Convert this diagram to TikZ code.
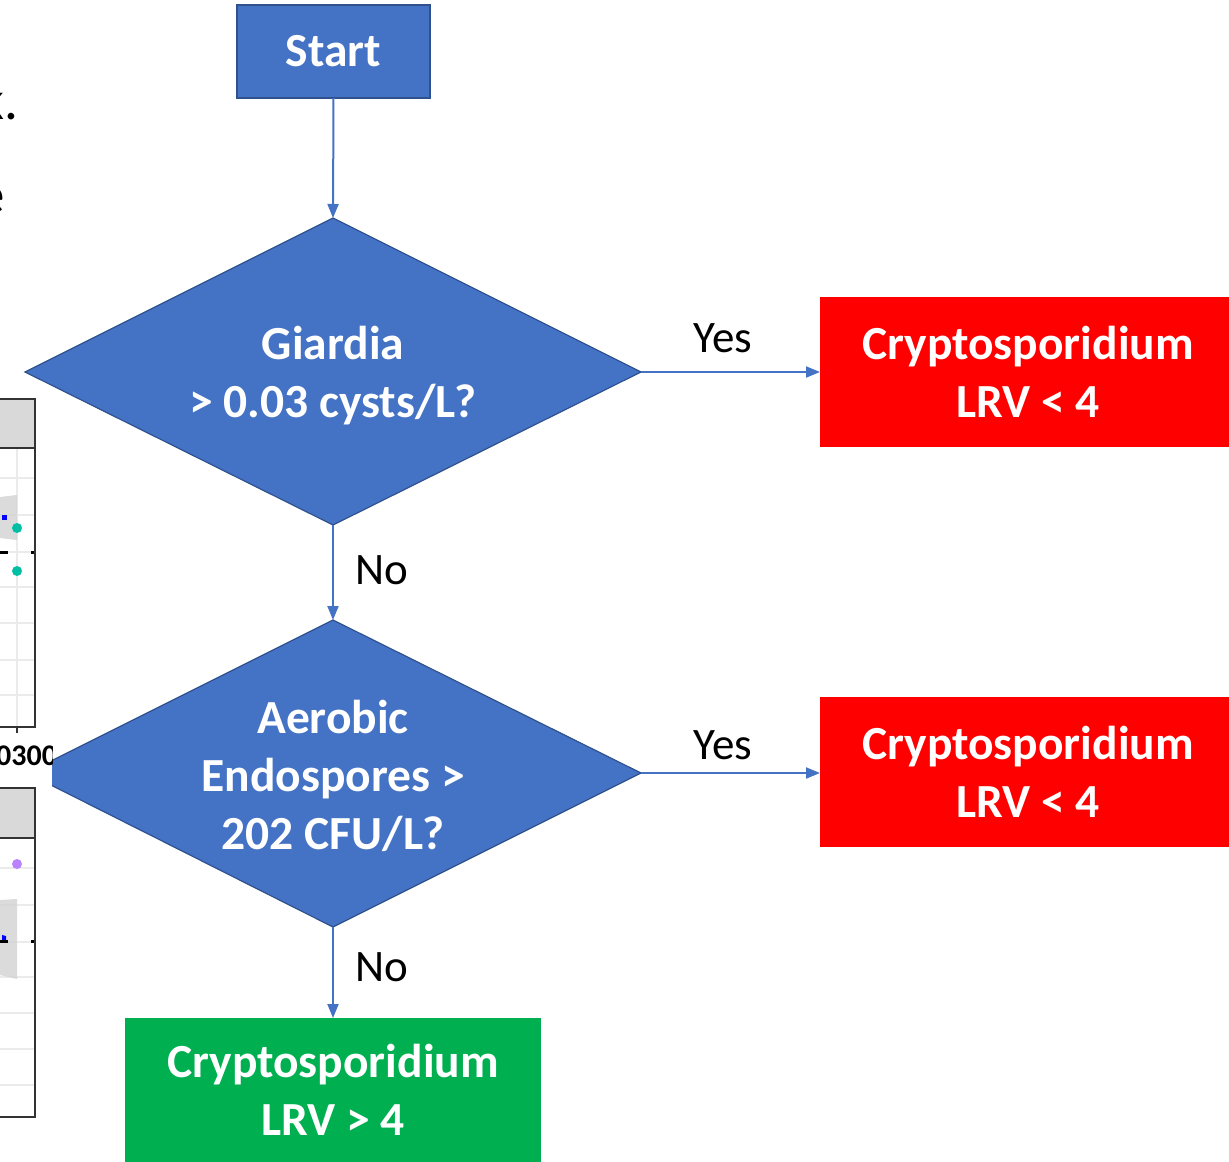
\documentclass[tikz,border=0pt]{standalone}
\usepackage{fontspec}
\setmainfont{Carlito}
\usetikzlibrary{arrows.meta}
\definecolor{fcblue}{HTML}{4472C4}
\definecolor{fcborder}{HTML}{2F528F}
\definecolor{fcred}{HTML}{FF0000}
\definecolor{fcgreen}{HTML}{00B050}
\definecolor{chgrid}{HTML}{EBEBEB}
\definecolor{chhead}{HTML}{D9D9D9}
\definecolor{chframe}{HTML}{333333}
\definecolor{chteal}{HTML}{00BFA5}
\definecolor{chpurple}{HTML}{B983FF}
\begin{document}
\begin{tikzpicture}[x=1pt,y=-1pt,
  boxtext/.style={text=white,font=\fontsize{47.5}{58}\selectfont\bfseries,align=center,inner sep=0pt,outer sep=0pt},
  startbox/.style={boxtext,rectangle,fill=fcblue,draw=fcborder,line width=1.8pt,minimum width=193pt,minimum height=93pt},
  decshape/.style={fill=fcblue,draw=fcborder,line width=1.2pt,line join=miter},
  redbox/.style={boxtext,rectangle,fill=fcred,minimum width=416pt,minimum height=150pt},
  greenbox/.style={boxtext,rectangle,fill=fcgreen,minimum width=416pt,minimum height=144pt},
  lbl/.style={font=\fontsize{45}{54}\selectfont,text=black},
  bglbl/.style={font=\fontsize{55}{60}\selectfont,text=black,inner sep=0pt},
  conn/.style={draw=fcblue,line width=2pt,-{Triangle[length=14pt,width=11pt]}},
  gridln/.style={draw=chgrid,line width=1.5pt},
  frameln/.style={draw=chframe,line width=2pt}]
\useasboundingbox (0,0) rectangle (1229,1162);
\clip (0,0) rectangle (1229,1162);

% background fragments of text
\node[bglbl,anchor=base east] (bgk) at (19,119) {k.};
\node[bglbl,anchor=base east] (bge) at (5,213) {e};

% decision diamonds
\coordinate (d1t) at (333,218);
\coordinate (d1b) at (333,525);
\coordinate (d1l) at (25,372);
\coordinate (d1r) at (641,372);
\coordinate (d2t) at (333,620);
\coordinate (d2b) at (333,927);
\coordinate (d2l) at (27,773);
\coordinate (d2r) at (641,773);
\draw[decshape] (d1t) -- (d1r) -- (d1b) -- (d1l) -- cycle;
\draw[decshape] (d2t) -- (d2r) -- (d2b) -- (d2l) -- cycle;
\node[boxtext] (d1) at (333,376) {Giardia\\> 0.03 cysts/L?};
\node[boxtext] (d2) at (333,776) {Aerobic\\Endospores >\\202 CFU/L?};

% boxes
\node[startbox] (start) at (333.5,51.5) {\raisebox{-2pt}{Start}};
\node[redbox] (r1) at (1028,372) {Cryptosporidium\\LRV < 4};
\node[redbox] (r2) at (1028,772) {Cryptosporidium\\LRV < 4};
\node[greenbox] (g) at (333,1090) {Cryptosporidium\\LRV > 4};

% connectors
\draw[conn] (start.south) -- (d1t);
\draw[conn] (d1r) -- (r1.west |- d1r);
\draw[conn] (d1b) -- (d2t);
\draw[conn] (d2r) -- (r2.west |- d2r);
\draw[conn] (d2b) -- (g.north);

% labels
\node[lbl] (y1) at (723,338) {Yes};
\node[lbl] (y2) at (723,745) {Yes};
\node[lbl] (n1) at (382,570) {No};
\node[lbl] (n2) at (382,967) {No};

% overlapping chart fragment (left edge)
\fill[white] (0,385.5) rectangle (52,1162);
\begin{scope}
\clip (0,0) rectangle (52,1162);
% panel 1
\foreach \yy in {478,515,552,587,623,660,695} \draw[gridln] (0,\yy) -- (35,\yy);
\draw[gridln] (17,448) -- (17,727);
\fill[gray!35,opacity=0.8] (0,497) -- (17,495) -- (17,540) -- (0,538) -- cycle;
\fill[blue] (2,515) rectangle (7,520);
\draw[black,line width=3pt] (0,552) -- (8,552);
\draw[black,line width=3pt] (31,552) -- (35,552);
\fill[chteal] (17,528) circle (5);
\fill[chteal] (17,571) circle (5);
\fill[chhead] (0,399) rectangle (35,448);
\draw[frameln] (0,399) -- (35,399) -- (35,727) -- (0,727);
\draw[frameln] (0,448) -- (35,448);
\draw[chframe,line width=2pt] (17,727) -- (17,733);
\node[font=\fontsize{30}{36}\selectfont\bfseries,anchor=base west,inner sep=0pt] (tick) at (-4,765) {0300};
% panel 2
\foreach \yy in {868,905,942,977,1013,1049,1085} \draw[gridln] (0,\yy) -- (35,\yy);
\fill[gray!35,opacity=0.8] (0,900) -- (17,899) -- (17,979) -- (0,975) -- cycle;
\fill[blue] (2,935) -- (6,936) -- (6,940) -- (2,940) -- cycle;
\draw[black,line width=3pt] (0,941) -- (8,941);
\draw[black,line width=3pt] (31,941) -- (35,941);
\fill[chpurple] (17,864) circle (5);
\fill[chhead] (0,788) rectangle (35,838);
\draw[frameln] (0,788) -- (35,788) -- (35,1117) -- (0,1117);
\draw[frameln] (0,838) -- (35,838);
\end{scope}
\end{tikzpicture}
\end{document}
